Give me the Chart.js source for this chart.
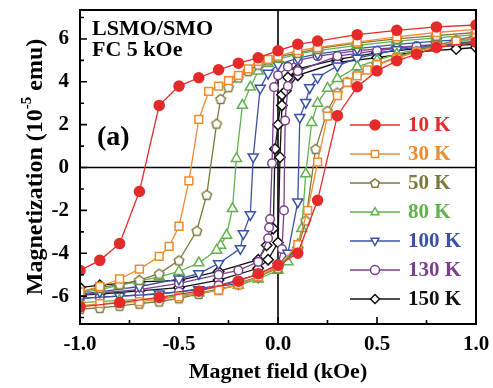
<!DOCTYPE html>
<html>
<head>
<meta charset="utf-8">
<script src="https://cdn.jsdelivr.net/npm/chart.js@4.4.0/dist/chart.umd.min.js"></script>
<style>
  html, body { margin: 0; padding: 0; background: #fff; }
</style>
</head>
<body>
<canvas id="grafico" width="493" height="388"></canvas>
<script>
// Field (kOe) and magnetization (10^-5 emu): descending branch first, then ascending branch
const field10 = [1.0, 0.8, 0.6, 0.4, 0.2, 0.1, 0.0, -0.1, -0.2, -0.3, -0.4, -0.5, -0.6, -0.7, -0.8, -0.9, -1.0,
                 -1.0, -0.8, -0.6, -0.4, -0.2, -0.1, 0.0, 0.1, 0.2, 0.3, 0.4, 0.5, 0.6, 0.7, 0.8, 1.0];
const mag10 = [6.65, 6.56, 6.4, 6.2, 5.9, 5.75, 5.45, 5.12, 4.87, 4.56, 4.19, 3.8, 2.9, -1.12, -3.55, -4.33, -4.8,
               -6.5, -6.3, -6.06, -5.77, -5.3, -4.95, -4.56, -4.0, -1.53, 2.42, 3.77, 4.51, 4.98, 5.29, 5.6, 5.85];

const field30 = [1.0, 0.8, 0.6, 0.4, 0.2, 0.1, 0.0, -0.05, -0.1, -0.15, -0.2, -0.25, -0.3, -0.35, -0.4, -0.45, -0.5, -0.55, -0.6, -0.7, -0.8, -0.9, -1.0,
                 -1.0, -0.9, -0.7, -0.5, -0.3, -0.2, -0.1, 0.0, 0.1, 0.15, 0.2, 0.25, 0.3, 0.35, 0.4, 0.45, 0.5, 0.6, 0.7, 0.8, 0.9, 1.0];
const mag30 = [6.45, 6.3, 6.1, 5.85, 5.6, 5.45, 5.2, 5.05, 4.95, 4.6, 4.3, 4.05, 3.8, 3.55, 2.25, -0.62, -2.74, -3.68, -4.15, -4.74, -5.2, -5.55, -5.8,
               -6.45, -6.35, -6.26, -6.03, -5.72, -5.45, -5.1, -4.6, -3.6, -2.0, 0.25, 2.4, 3.35, 3.97, 4.28, 4.55, 4.8, 5.1, 5.4, 5.65, 5.9, 6.06];

const field50 = [1.0, 0.8, 0.6, 0.4, 0.2, 0.1, 0.0, -0.05, -0.1, -0.15, -0.2, -0.25, -0.29, -0.31, -0.36, -0.41, -0.5, -0.6, -0.7, -0.8, -0.9, -1.0,
                 -1.0, -0.9, -0.8, -0.7, -0.6, -0.5, -0.4, -0.3, -0.2, -0.1, 0.0, 0.1, 0.14, 0.19, 0.25, 0.3, 0.35, 0.4, 0.5, 0.6, 0.7, 0.8, 0.9, 1.0];
const mag50 = [6.3, 6.15, 6.0, 5.8, 5.55, 5.35, 5.15, 5.0, 4.8, 4.5, 4.2, 3.75, 3.2, 2.05, -1.27, -2.95, -4.33, -4.95, -5.25, -5.45, -5.6, -5.8,
               -6.6, -6.55, -6.45, -6.35, -6.25, -6.1, -5.9, -5.7, -5.45, -5.1, -4.7, -3.8, -2.47, 0.87, 2.65, 3.5, 4.0, 4.35, 4.8, 5.15, 5.45, 5.7, 5.95, 6.15];

const field80 = [1.0, 0.8, 0.6, 0.4, 0.2, 0.1, 0.0, -0.05, -0.1, -0.14, -0.18, -0.21, -0.23, -0.26, -0.29, -0.31, -0.4, -0.5, -0.6, -0.7, -0.8, -0.9, -1.0,
                 -1.0, -0.8, -0.6, -0.4, -0.2, -0.1, 0.0, 0.05, 0.1, 0.12, 0.14, 0.17, 0.2, 0.25, 0.3, 0.4, 0.5, 0.6, 0.8, 1.0];
const mag80 = [6.2, 6.05, 5.9, 5.7, 5.45, 5.3, 5.05, 4.85, 4.5, 3.75, 2.9, 0.42, -1.92, -3.16, -3.63, -3.86, -4.45, -4.85, -5.1, -5.3, -5.5, -5.7, -5.85,
               -6.3, -6.2, -6.1, -5.85, -5.5, -5.2, -4.8, -4.4, -3.6, -2.85, -0.3, 2.1, 3.0, 3.7, 4.15, 4.7, 5.0, 5.3, 5.7, 6.0];

const field100 = [1.0, 0.8, 0.6, 0.4, 0.2, 0.1, 0.0, -0.05, -0.09, -0.125, -0.14, -0.175, -0.19, -0.3, -0.4, -0.5, -0.7, -0.9, -1.0,
                  -1.0, -0.8, -0.6, -0.4, -0.2, -0.1, 0.0, 0.05, 0.1, 0.11, 0.14, 0.16, 0.2, 0.3, 0.4, 0.6, 0.8, 1.0];
const mag100 = [6.0, 5.9, 5.75, 5.55, 5.3, 5.1, 4.8, 4.4, 3.7, 0.5, -2.2, -3.08, -3.78, -4.48, -4.95, -5.2, -5.55, -5.8, -5.9,
                -6.1, -6.0, -5.9, -5.7, -5.4, -5.1, -4.6, -4.0, -1.6, 2.34, 3.04, 3.73, 4.2, 4.74, 5.1, 5.5, 5.7, 5.9];

const field130 = [1.0, 0.8, 0.6, 0.4, 0.2, 0.1, 0.05, 0.0, -0.02, -0.03, -0.04, -0.045, -0.05, -0.1, -0.2, -0.3, -0.5, -0.7, -0.9, -1.0,
                  -1.0, -0.9, -0.7, -0.5, -0.3, -0.1, 0.0, 0.02, 0.03, 0.036, 0.05, 0.1, 0.3, 0.5, 0.7, 1.0];
const mag130 = [5.85, 5.75, 5.6, 5.45, 5.2, 5.0, 4.7, 4.3, 3.75, 0.2, -2.4, -2.8, -3.3, -4.4, -4.8, -5.0, -5.4, -5.7, -5.85, -5.95,
                -6.1, -6.05, -5.95, -5.8, -5.5, -5.0, -4.5, -3.8, -2.0, 2.19, 3.8, 4.5, 5.2, 5.45, 5.67, 5.83];

const field150 = [1.0, 0.9, 0.7, 0.5, 0.3, 0.1, 0.05, 0.02, 0.0, -0.015, -0.024, -0.057, -0.1, -0.3, -0.5, -0.7, -0.9, -1.0,
                  -1.0, -0.9, -0.7, -0.5, -0.3, -0.1, -0.05, 0.0, 0.01, 0.02, 0.04, 0.1, 0.3, 0.5, 0.7, 0.9, 1.0];
const mag150 = [5.75, 5.7, 5.55, 5.35, 5.05, 4.6, 4.2, 3.4, 2.0, 0.87, -2.85, -3.63, -4.3, -4.85, -5.26, -5.33, -5.49, -5.6,
                -5.95, -5.9, -5.75, -5.6, -5.25, -4.7, -4.3, -3.5, 0.48, 2.9, 3.58, 4.3, 4.9, 5.13, 5.4, 5.53, 5.6];

const labels = ["10 K", "30 K", "50 K", "80 K", "100 K", "130 K", "150 K"];
const colors = ["#e52a2a", "#f08a30", "#7b7a3c", "#5fb24c", "#3a52a4", "#7c3f8e", "#111111"];
const xTicks = [-1.0, -0.5, 0.0, 0.5, 1.0];
const yTicks = [-6, -4, -2, 0, 2, 4, 6];

const FONT = '"Liberation Serif", "Times New Roman", serif';

// Pentagon marker (Chart.js has no pentagon point style)
function pentagonCanvas(color, r) {
    const c = document.createElement("canvas");
    const s = Math.ceil(r * 2 + 4);
    c.width = s; c.height = s;
    const g = c.getContext("2d");
    pentagonPath(g, s / 2, s / 2 + 0.5, r);
    g.fillStyle = "#fff";
    g.fill();
    g.lineWidth = 1.5;
    g.strokeStyle = color;
    g.stroke();
    return c;
}

function pentagonPath(g, cx, cy, r) {
    g.beginPath();
    for (let k = 0; k < 5; k++) {
        const a = -Math.PI / 2 + k * 2 * Math.PI / 5;
        const px = cx + r * Math.cos(a), py = cy + r * Math.sin(a);
        if (k === 0) g.moveTo(px, py); else g.lineTo(px, py);
    }
    g.closePath();
}

const markers = [
    { style: "circle", radius: 5, rot: 0, filled: true },
    { style: "rect", radius: 5.5, rot: 0, filled: false },
    { style: pentagonCanvas(colors[2], 5), radius: 5, rot: 0, filled: false },
    { style: "triangle", radius: 5.8, rot: 0, filled: false },
    { style: "triangle", radius: 5.8, rot: 180, filled: false },
    { style: "circle", radius: 4.3, rot: 0, filled: false },
    { style: "rectRot", radius: 5.2, rot: 0, filled: false }
];

const fields = [field10, field30, field50, field80, field100, field130, field150];
const mags = [mag10, mag30, mag50, mag80, mag100, mag130, mag150];

const datasets = fields.map((f, i) => ({
    label: labels[i],
    data: f.map((v, j) => ({ x: v, y: mags[i][j] })),
    showLine: true,
    borderColor: colors[i],
    borderWidth: 1.3,
    pointStyle: markers[i].style,
    pointRotation: markers[i].rot,
    pointRadius: markers[i].radius,
    pointHoverRadius: markers[i].radius,
    pointBorderWidth: 1.5,
    pointBorderColor: colors[i],
    pointBackgroundColor: markers[i].filled ? colors[i] : "#fff",
    clip: 0
}));

function minorTicks(major, min, max) {
    const step = major[1] - major[0];
    const out = [];
    for (let k = 0; k <= major.length; k++) {
        const v = (k < major.length ? major[k] : major[k - 1] + step) - step / 2;
        if (v >= min && v <= max) out.push(v);
    }
    return out;
}

// Frame, zero lines and inward tick marks
const framePlugin = {
    id: "frame",
    beforeDatasetsDraw(chart) {
        const { ctx, chartArea: a, scales: { x, y } } = chart;
        ctx.save();
        ctx.strokeStyle = "#000";
        ctx.lineWidth = 1.6;
        const x0 = x.getPixelForValue(0), y0 = y.getPixelForValue(0);
        ctx.beginPath();
        ctx.moveTo(x0, a.top); ctx.lineTo(x0, a.bottom);
        ctx.moveTo(a.left, y0); ctx.lineTo(a.right, y0);
        ctx.stroke();
        ctx.restore();
    },
    afterDatasetsDraw(chart) {
        const { ctx, chartArea: a, scales: { x, y } } = chart;
        ctx.save();
        ctx.strokeStyle = "#000";
        ctx.lineWidth = 2;
        ctx.strokeRect(a.left, a.top, a.right - a.left, a.bottom - a.top);
        ctx.lineWidth = 1.6;
        ctx.beginPath();
        yTicks.forEach(v => { const p = y.getPixelForValue(v); ctx.moveTo(a.left, p); ctx.lineTo(a.left + 7, p); });
        minorTicks(yTicks, y.min, y.max).forEach(v => { const p = y.getPixelForValue(v); ctx.moveTo(a.left, p); ctx.lineTo(a.left + 4, p); });
        xTicks.forEach(v => { const p = x.getPixelForValue(v); ctx.moveTo(p, a.bottom); ctx.lineTo(p, a.bottom - 7); });
        minorTicks(xTicks, x.min, x.max).forEach(v => { const p = x.getPixelForValue(v); ctx.moveTo(p, a.bottom); ctx.lineTo(p, a.bottom - 4); });
        ctx.stroke();
        ctx.restore();
    }
};

function drawMarker(ctx, i, cx, cy, r) {
    const c = colors[i];
    ctx.save();
    ctx.lineWidth = 1.5;
    ctx.strokeStyle = c;
    ctx.fillStyle = markers[i].filled ? c : "#fff";
    ctx.beginPath();
    if (i === 0 || i === 5) {
        ctx.arc(cx, cy, r, 0, Math.PI * 2);
    } else if (i === 1) {
        const s = r * 0.8;
        ctx.rect(cx - s, cy - s, 2 * s, 2 * s);
    } else if (i === 2) {
        pentagonPath(ctx, cx, cy + 0.5, r);
    } else if (i === 3 || i === 4) {
        const d = i === 3 ? 1 : -1;
        ctx.moveTo(cx, cy - d * r);
        ctx.lineTo(cx + r * 0.87, cy + d * r * 0.6);
        ctx.lineTo(cx - r * 0.87, cy + d * r * 0.6);
        ctx.closePath();
    } else {
        ctx.moveTo(cx, cy - r); ctx.lineTo(cx + r, cy); ctx.lineTo(cx, cy + r); ctx.lineTo(cx - r, cy);
        ctx.closePath();
    }
    ctx.fill();
    ctx.stroke();
    ctx.restore();
}

// Legend inside the plot, plus text labels and y title with superscript
const annotPlugin = {
    id: "annot",
    afterDraw(chart) {
        const { ctx, chartArea: a } = chart;
        ctx.save();
        ctx.fillStyle = "#000";
        ctx.textBaseline = "alphabetic";
        ctx.font = "bold 22px " + FONT;
        ctx.fillText("LSMO/SMO", a.left + 12, a.top + 25);
        ctx.fillText("FC 5 kOe", a.left + 12, a.top + 46);
        ctx.font = "bold 28px " + FONT;
        ctx.fillText("(a)", a.left + 17, a.top + 135);

        // legend
        const lx = a.right - 126;
        labels.forEach((lab, i) => {
            const ly = a.top + 115 + i * 29;
            ctx.strokeStyle = colors[i];
            ctx.lineWidth = 1.5;
            ctx.beginPath();
            ctx.moveTo(lx, ly); ctx.lineTo(lx + 50, ly);
            ctx.stroke();
            drawMarker(ctx, i, lx + 25, ly, i === 0 ? 5 : 4.5);
            ctx.fillStyle = colors[i];
            ctx.font = "bold 21px " + FONT;
            ctx.textBaseline = "middle";
            ctx.fillText(lab, lx + 58, ly + 1);
        });

        // y axis title
        const parts = [
            ["Magnetization (10", "bold 24px " + FONT, 0],
            ["-5", "bold 15px " + FONT, -9],
            [" emu)", "bold 24px " + FONT, 0]
        ];
        let total = 0;
        parts.forEach(p => { ctx.font = p[1]; total += ctx.measureText(p[0]).width; });
        ctx.translate(36, (a.top + a.bottom) / 2);
        ctx.rotate(-Math.PI / 2);
        ctx.fillStyle = "#000";
        ctx.textBaseline = "middle";
        let px = -total / 2;
        parts.forEach(p => {
            ctx.font = p[1];
            ctx.fillText(p[0], px, p[2]);
            px += ctx.measureText(p[0]).width;
        });
        ctx.restore();
    }
};

const ctx = document.getElementById("grafico").getContext("2d");
new Chart(ctx, {
    type: "scatter",
    data: { datasets },
    options: {
        responsive: false,
        animation: false,
        events: [],
        layout: { padding: { left: 0, top: 10, right: 17, bottom: 0 } },
        plugins: { legend: { display: false }, tooltip: { enabled: false } },
        scales: {
            x: {
                type: "linear",
                min: -1, max: 1,
                grid: { display: false, drawTicks: false },
                border: { display: false },
                afterFit: s => { s.height = 64; s.paddingLeft = 0; s.paddingRight = 0; },
                afterBuildTicks: s => { s.ticks = xTicks.map(v => ({ value: v })); },
                ticks: {
                    padding: 8,
                    color: "#000",
                    font: { family: FONT, size: 21, weight: "bold" },
                    callback: v => v.toFixed(1)
                },
                title: {
                    display: true,
                    text: "Magnet field (kOe)",
                    color: "#000",
                    font: { family: FONT, size: 22, weight: "bold" },
                    padding: { top: 0, bottom: 2 }
                }
            },
            y: {
                type: "linear",
                min: -7.3, max: 7.35,
                grid: { display: false, drawTicks: false },
                border: { display: false },
                afterFit: s => { s.width = 80; s.paddingTop = 0; s.paddingBottom = 0; },
                afterBuildTicks: s => { s.ticks = yTicks.map(v => ({ value: v })); },
                ticks: {
                    padding: 11,
                    color: "#000",
                    font: { family: FONT, size: 21, weight: "bold" },
                    callback: v => String(v)
                }
            }
        }
    },
    plugins: [framePlugin, annotPlugin]
});
</script>
</body>
</html>
